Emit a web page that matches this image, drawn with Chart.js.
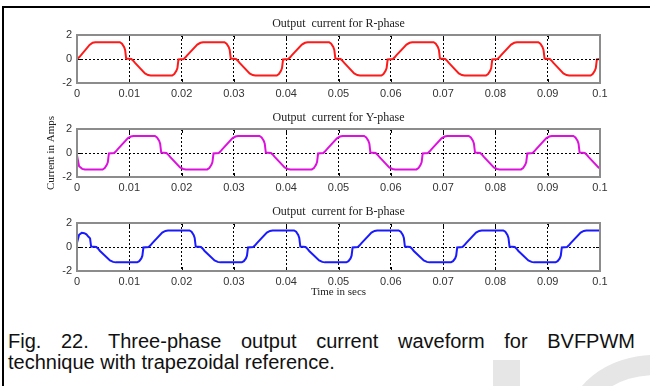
<!DOCTYPE html>
<html lang="en">
<head>
<meta charset="UTF-8">
<title>Three-phase output current</title>
<script src="https://cdn.jsdelivr.net/npm/chart.js"></script>
<style>
  body { margin: 0; background: #fff; }
  #page { position: relative; width: 650px; height: 386px; overflow: hidden; background: #fff; }
  .rule { position: absolute; background: #000; }
  .wm { position: absolute; box-sizing: border-box; }
  canvas { position: absolute; left: 0; top: 0; }
  #caption {
    position: absolute; left: 8px; top: 331px; width: 627px;
    font-family: 'Liberation Sans', Arial, sans-serif; font-size: 20px; line-height: 21px; color: #111;
  }
  #caption .l1 { text-align: justify; text-align-last: justify; }
</style>
</head>
<body>
<div id="page">
  <div class="rule" style="left:2px;top:6px;width:648px;height:2px"></div>
  <div class="rule" style="left:2px;top:6px;width:2px;height:380px"></div>
  <!-- faint watermark shapes behind the caption -->
  <div class="wm" style="left:493px;top:360px;width:27px;height:30px;background:#e6e6e6"></div>
  <div class="wm" style="left:567px;top:355px;width:176px;height:140px;border:20px solid #e6e6e6;border-radius:50%"></div>
  <div id="caption">
    <div class="l1">Fig. 22. Three-phase output current waveform for BVFPWM</div>
    <div>technique with trapezoidal reference.</div>
  </div>
</div>

<script>
// time in seconds, current in amps
const rTime = [
  0, 0.0005, 0.0024, 0.0030, 0.0035, 0.0082, 0.0086, 0.0090, 0.0092, 0.0094,
  0.0104, 0.0107, 0.0111, 0.0130, 0.0136, 0.0141, 0.0182, 0.0186, 0.0190, 0.0192, 0.0194,
  0.0204, 0.0207, 0.0211, 0.0230, 0.0236, 0.0241, 0.0282, 0.0286, 0.0290, 0.0292, 0.0294,
  0.0304, 0.0307, 0.0311, 0.0330, 0.0336, 0.0341, 0.0382, 0.0386, 0.0390, 0.0392, 0.0394,
  0.0404, 0.0407, 0.0411, 0.0430, 0.0436, 0.0441, 0.0482, 0.0486, 0.0490, 0.0492, 0.0494,
  0.0504, 0.0507, 0.0511, 0.0530, 0.0536, 0.0541, 0.0582, 0.0586, 0.0590, 0.0592, 0.0594,
  0.0604, 0.0607, 0.0611, 0.0630, 0.0636, 0.0641, 0.0682, 0.0686, 0.0690, 0.0692, 0.0694,
  0.0704, 0.0707, 0.0711, 0.0730, 0.0736, 0.0741, 0.0782, 0.0786, 0.0790, 0.0792, 0.0794,
  0.0804, 0.0807, 0.0811, 0.0830, 0.0836, 0.0841, 0.0882, 0.0886, 0.0890, 0.0892, 0.0894,
  0.0904, 0.0907, 0.0911, 0.0930, 0.0936, 0.0941, 0.0982, 0.0986, 0.0990, 0.0992, 0.0994,
  0.1000
];
const rCurrent = [
  0, 0.18, 1.17, 1.35, 1.40, 1.40, 1.28, 1.00, 0.76, 0.04,
  0, -0.12, -0.33, -1.20, -1.34, -1.38, -1.38, -1.26, -0.98, -0.76, -0.04,
  0, 0.12, 0.33, 1.20, 1.35, 1.40, 1.40, 1.28, 1.00, 0.76, 0.04,
  0, -0.12, -0.33, -1.20, -1.34, -1.38, -1.38, -1.26, -0.98, -0.76, -0.04,
  0, 0.12, 0.33, 1.20, 1.35, 1.40, 1.40, 1.28, 1.00, 0.76, 0.04,
  0, -0.12, -0.33, -1.20, -1.34, -1.38, -1.38, -1.26, -0.98, -0.76, -0.04,
  0, 0.12, 0.33, 1.20, 1.35, 1.40, 1.40, 1.28, 1.00, 0.76, 0.04,
  0, -0.12, -0.33, -1.20, -1.34, -1.38, -1.38, -1.26, -0.98, -0.76, -0.04,
  0, 0.12, 0.33, 1.20, 1.35, 1.40, 1.40, 1.28, 1.00, 0.76, 0.04,
  0, -0.12, -0.33, -1.20, -1.34, -1.38, -1.38, -1.26, -0.98, -0.76, -0.04,
  0
];

const yTime = [
  0, 0.0004, 0.0010, 0.0015, 0.0049, 0.0053, 0.0057, 0.0059, 0.0061,
  0.0071, 0.0074, 0.0078, 0.0097, 0.0103, 0.0108, 0.0149, 0.0153, 0.0157, 0.0159, 0.0161,
  0.0171, 0.0174, 0.0178, 0.0197, 0.0203, 0.0208, 0.0249, 0.0253, 0.0257, 0.0259, 0.0261,
  0.0271, 0.0274, 0.0278, 0.0297, 0.0303, 0.0308, 0.0349, 0.0353, 0.0357, 0.0359, 0.0361,
  0.0371, 0.0374, 0.0378, 0.0397, 0.0403, 0.0408, 0.0449, 0.0453, 0.0457, 0.0459, 0.0461,
  0.0471, 0.0474, 0.0478, 0.0497, 0.0503, 0.0508, 0.0549, 0.0553, 0.0557, 0.0559, 0.0561,
  0.0571, 0.0574, 0.0578, 0.0597, 0.0603, 0.0608, 0.0649, 0.0653, 0.0657, 0.0659, 0.0661,
  0.0671, 0.0674, 0.0678, 0.0697, 0.0703, 0.0708, 0.0749, 0.0753, 0.0757, 0.0759, 0.0761,
  0.0771, 0.0774, 0.0778, 0.0797, 0.0803, 0.0808, 0.0849, 0.0853, 0.0857, 0.0859, 0.0861,
  0.0871, 0.0874, 0.0878, 0.0897, 0.0903, 0.0908, 0.0949, 0.0953, 0.0957, 0.0959, 0.0961,
  0.0971, 0.0974, 0.0978, 0.0997, 0.1000
];
const yCurrent = [
  -0.20, -1.10, -1.32, -1.38, -1.38, -1.26, -0.98, -0.76, -0.04,
  0, 0.12, 0.33, 1.22, 1.37, 1.42, 1.42, 1.30, 1.02, 0.78, 0.04,
  0, -0.12, -0.33, -1.20, -1.33, -1.37, -1.37, -1.25, -0.98, -0.76, -0.04,
  0, 0.12, 0.33, 1.22, 1.37, 1.42, 1.42, 1.30, 1.02, 0.78, 0.04,
  0, -0.12, -0.33, -1.20, -1.33, -1.37, -1.37, -1.25, -0.98, -0.76, -0.04,
  0, 0.12, 0.33, 1.22, 1.37, 1.42, 1.42, 1.30, 1.02, 0.78, 0.04,
  0, -0.12, -0.33, -1.20, -1.33, -1.37, -1.37, -1.25, -0.98, -0.76, -0.04,
  0, 0.12, 0.33, 1.22, 1.37, 1.42, 1.42, 1.30, 1.02, 0.78, 0.04,
  0, -0.12, -0.33, -1.20, -1.33, -1.37, -1.37, -1.25, -0.98, -0.76, -0.04,
  0, 0.12, 0.33, 1.22, 1.37, 1.42, 1.42, 1.30, 1.02, 0.78, 0.04,
  0, -0.12, -0.33, -1.20, -1.28
];

const bTime = [
  0, 0.0004, 0.0009, 0.0014, 0.0018, 0.0022, 0.0025, 0.0027,
  0.0037, 0.0040, 0.0044, 0.0063, 0.0069, 0.0074, 0.0115, 0.0119, 0.0123, 0.0125, 0.0127,
  0.0137, 0.0140, 0.0144, 0.0163, 0.0169, 0.0174, 0.0215, 0.0219, 0.0223, 0.0225, 0.0227,
  0.0237, 0.0240, 0.0244, 0.0263, 0.0269, 0.0274, 0.0315, 0.0319, 0.0323, 0.0325, 0.0327,
  0.0337, 0.0340, 0.0344, 0.0363, 0.0369, 0.0374, 0.0415, 0.0419, 0.0423, 0.0425, 0.0427,
  0.0437, 0.0440, 0.0444, 0.0463, 0.0469, 0.0474, 0.0515, 0.0519, 0.0523, 0.0525, 0.0527,
  0.0537, 0.0540, 0.0544, 0.0563, 0.0569, 0.0574, 0.0615, 0.0619, 0.0623, 0.0625, 0.0627,
  0.0637, 0.0640, 0.0644, 0.0663, 0.0669, 0.0674, 0.0715, 0.0719, 0.0723, 0.0725, 0.0727,
  0.0737, 0.0740, 0.0744, 0.0763, 0.0769, 0.0774, 0.0815, 0.0819, 0.0823, 0.0825, 0.0827,
  0.0837, 0.0840, 0.0844, 0.0863, 0.0869, 0.0874, 0.0915, 0.0919, 0.0923, 0.0925, 0.0927,
  0.0937, 0.0940, 0.0944, 0.0963, 0.0969, 0.0974, 0.1000
];
const bCurrent = [
  0.35, 1.02, 1.18, 1.15, 1.05, 0.85, 0.72, 0.04,
  0, -0.12, -0.33, -1.12, -1.24, -1.28, -1.28, -1.18, -0.95, -0.72, -0.04,
  0, 0.12, 0.33, 1.20, 1.34, 1.38, 1.38, 1.27, 1.00, 0.76, 0.04,
  0, -0.12, -0.33, -1.12, -1.24, -1.28, -1.28, -1.18, -0.95, -0.72, -0.04,
  0, 0.12, 0.33, 1.20, 1.34, 1.38, 1.38, 1.27, 1.00, 0.76, 0.04,
  0, -0.12, -0.33, -1.12, -1.24, -1.28, -1.28, -1.18, -0.95, -0.72, -0.04,
  0, 0.12, 0.33, 1.20, 1.34, 1.38, 1.38, 1.27, 1.00, 0.76, 0.04,
  0, -0.12, -0.33, -1.12, -1.24, -1.28, -1.28, -1.18, -0.95, -0.72, -0.04,
  0, 0.12, 0.33, 1.20, 1.34, 1.38, 1.38, 1.27, 1.00, 0.76, 0.04,
  0, -0.12, -0.33, -1.12, -1.24, -1.28, -1.28, -1.18, -0.95, -0.72, -0.04,
  0, 0.12, 0.33, 1.20, 1.34, 1.38, 1.38
];

const panelTitles = ['Output  current for R-phase', 'Output  current for Y-phase', 'Output  current for B-phase'];
const xLabel = 'Time in secs';
const yLabel = 'Current in Amps';

const serif = "'Liberation Serif', 'Times New Roman', serif";
const sans = "'Liberation Sans', Arial, sans-serif";

// gray box, inward tick marks and the heading above each panel
function framePlugin(heading) {
  return {
    id: 'frame',
    afterDraw(chart) {
      const { ctx, chartArea: a, scales } = chart;
      ctx.save();
      ctx.strokeStyle = '#000';
      ctx.lineWidth = 1;
      ctx.beginPath();
      scales.x.ticks.forEach(t => {
        const px = Math.round(scales.x.getPixelForValue(t.value)) + 0.5;
        ctx.moveTo(px, a.top); ctx.lineTo(px, a.top + 4);
        ctx.moveTo(px, a.bottom); ctx.lineTo(px, a.bottom - 4);
      });
      scales.y.ticks.forEach(t => {
        const py = Math.round(scales.y.getPixelForValue(t.value)) + 0.5;
        ctx.moveTo(a.left, py); ctx.lineTo(a.left + 4, py);
        ctx.moveTo(a.right, py); ctx.lineTo(a.right - 4, py);
      });
      ctx.stroke();
      ctx.strokeStyle = '#8c8c8c';
      ctx.lineWidth = 2;
      ctx.strokeRect(a.left, a.top, a.right - a.left, a.bottom - a.top);
      ctx.fillStyle = '#222';
      ctx.font = '12px ' + serif;
      ctx.textAlign = 'center';
      ctx.textBaseline = 'middle';
      ctx.fillText(heading, (a.left + a.right) / 2, a.top - 11);
      ctx.restore();
    }
  };
}

function makePanel(time, current, color, heading, top, bottom, showX, showY) {
  const canvas = document.createElement('canvas');
  canvas.width = 650;
  canvas.height = 386;
  document.getElementById('page').appendChild(canvas);
  const xHeight = showX ? 28 : 20;

  return new Chart(canvas, {
    type: 'line',
    data: {
      datasets: [{
        data: time.map((t, i) => ({ x: t, y: current[i] })),
        borderColor: color,
        borderWidth: 2,
        pointRadius: 0,
        tension: 0,
        fill: false
      }]
    },
    options: {
      responsive: false,
      animation: false,
      events: [],
      layout: { padding: { top: top, left: 45, right: 50, bottom: 386 - bottom - xHeight } },
      plugins: { legend: { display: false }, tooltip: { enabled: false } },
      scales: {
        x: {
          type: 'linear',
          min: 0,
          max: 0.1,
          afterFit: s => { s.height = xHeight; },
          border: { display: false, dash: [2, 2] },
          grid: {
            drawTicks: false,
            lineWidth: 1,
            color: c => (c.tick && c.tick.value > 0.001 && c.tick.value < 0.099) ? '#000' : 'rgba(0,0,0,0)'
          },
          ticks: {
            stepSize: 0.01,
            autoSkip: false,
            maxRotation: 0,
            padding: 4,
            color: '#333',
            font: { family: sans, size: 11 },
            callback: v => Math.abs(v) < 1e-9 ? '0' : String(+v.toFixed(2))
          },
          title: { display: showX, text: xLabel, color: '#222', padding: 0, font: { family: serif, size: 11 } }
        },
        y: {
          min: -2,
          max: 2,
          afterFit: s => { s.width = 32; },
          border: { display: false, dash: [2, 2] },
          grid: {
            drawTicks: false,
            lineWidth: 1,
            color: c => (c.tick && c.tick.value === 0) ? '#000' : 'rgba(0,0,0,0)'
          },
          ticks: {
            stepSize: 2,
            padding: 5,
            color: '#333',
            font: { family: sans, size: 11 }
          },
          title: { display: showY, text: yLabel, color: '#222', padding: 0, font: { family: serif, size: 11 } }
        }
      }
    },
    plugins: [framePlugin(heading)]
  });
}

makePanel(rTime, rCurrent, '#ff1a1a', panelTitles[0], 35, 83, false, false);
makePanel(yTime, yCurrent, '#dd11dd', panelTitles[1], 129, 177, false, true);
makePanel(bTime, bCurrent, '#1a1aff', panelTitles[2], 223, 271, true, false);
</script>
</body>
</html>
